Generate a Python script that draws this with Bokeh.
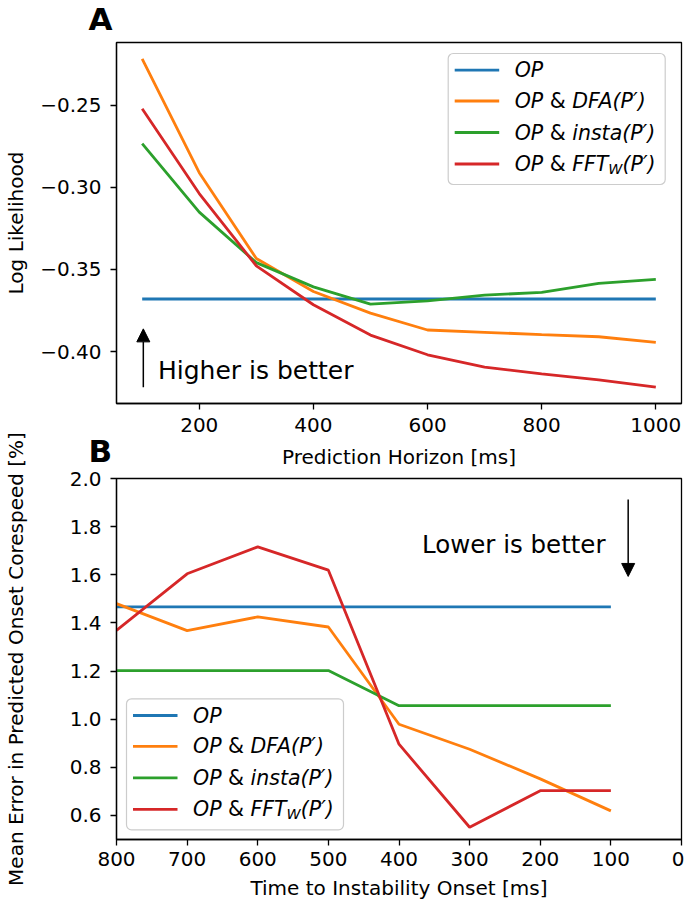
from bokeh.plotting import figure
from bokeh.models import Range1d, FixedTicker, CustomJSTickFormatter, Arrow, NormalHead
from bokeh.layouts import column
from bokeh.core.properties import value
from bokeh.embed import file_html
from bokeh.resources import INLINE

FONT = "DejaVu Sans"
COLORS = ["#1f77b4", "#ff7f0e", "#2ca02c", "#d62728"]

# ---------------- Panel A data ----------------
horizon_ms = [100, 200, 300, 400, 500, 600, 700, 800, 900, 1000]
ll_op = [-0.368, -0.368, -0.368, -0.368, -0.368, -0.368, -0.368, -0.368, -0.368, -0.368]
ll_dfa = [-0.2216, -0.291, -0.3433, -0.3634, -0.3766, -0.3869, -0.3883, -0.3897, -0.391, -0.3944]
ll_insta = [-0.2733, -0.315, -0.3458, -0.3606, -0.3711, -0.3691, -0.3656, -0.364, -0.3585, -0.356]
ll_fft = [-0.252, -0.3037, -0.3478, -0.3715, -0.390, -0.402, -0.4095, -0.4136, -0.4173, -0.4217]
a_xticks = [200, 400, 600, 800, 1000]
a_yticks = [-0.40, -0.35, -0.30, -0.25]

# ---------------- Panel B data ----------------
onset_ms = [800, 700, 600, 500, 400, 300, 200, 100]
err_op = [1.467, 1.467, 1.467, 1.467, 1.467, 1.467, 1.467, 1.467]
err_dfa = [1.48, 1.368, 1.425, 1.383, 0.979, 0.875, 0.752, 0.619]
err_insta = [1.202, 1.202, 1.202, 1.202, 1.056, 1.056, 1.056, 1.056]
err_fft = [1.369, 1.604, 1.716, 1.619, 0.896, 0.551, 0.703, 0.703]
b_xticks = [800, 700, 600, 500, 400, 300, 200, 100, 0]
b_yticks = [0.6, 0.8, 1.0, 1.2, 1.4, 1.6, 1.8, 2.0]
b_xlim = [800, 0]
b_ylim = [0.5, 2.0]

# annotation anchors (data units)
a_arrow_x = [102, 102]
a_arrow_y = [-0.4218, -0.3862]
a_note = (127.7, -0.4114, "Higher is better")
b_arrow_x = [75.5, 75.5]
b_arrow_y = [1.913, 1.593]
b_note = (107.6, 1.726, "Lower is better")

FRAME_W, FRAME_H = 565, 361
LEG_FS = 20.5
TOP_BORDER = 62

# legend label pieces: (text, style, scale, shift_down_px, gap_before_em, width_em)
LEGEND_PIECES = [
    [("OP", "italic", 1.0, 0, 0.0, 1.390)],
    [("OP", "italic", 1.0, 0, 0.0, 1.390), ("&", "normal", 1.0, 0, 0.318, 0.780),
     ("DFA(P\u2032)", "italic", 1.0, 0, 0.318, 0)],
    [("OP", "italic", 1.0, 0, 0.0, 1.390), ("&", "normal", 1.0, 0, 0.318, 0.780),
     ("insta(P\u2032)", "italic", 1.0, 0, 0.318, 0)],
    [("OP", "italic", 1.0, 0, 0.0, 1.390), ("&", "normal", 1.0, 0, 0.318, 0.780),
     ("FFT", "italic", 1.0, 0, 0.318, 1.761), ("W", "italic", 0.7, 5, 0.0, 0.989),
     ("(P\u2032)", "italic", 1.0, 0, 0.0, 0)],
]


def padded(vals, frac=0.05):
    lo, hi = min(vals), max(vals)
    pad = (hi - lo) * frac
    return lo - pad, hi + pad


def make_fig(x_range, y_range, bottom, letter, letter_standoff):
    p = figure(frame_width=FRAME_W, frame_height=FRAME_H, x_range=x_range, y_range=y_range,
               min_border_left=107, min_border_right=3, min_border_top=TOP_BORDER,
               min_border_bottom=bottom, output_backend="svg", toolbar_location=None)
    p.title.text = letter
    p.title.align = "left"
    p.title.offset = -28
    p.title.text_font = FONT
    p.title.text_font_size = "31px"
    p.title.text_font_style = "bold"
    p.title.text_color = "black"
    p.title.vertical_align = "bottom"
    p.title.standoff = letter_standoff
    p.xgrid.visible = False
    p.ygrid.visible = False
    p.outline_line_color = "black"
    p.outline_line_width = 1.3
    p.outline_line_alpha = 1.0
    for ax in (p.xaxis[0], p.yaxis[0]):
        ax.axis_line_color = "black"
        ax.axis_line_width = 1.3
        ax.major_tick_out = 6
        ax.major_tick_in = 0
        ax.major_tick_line_width = 1.3
        ax.major_tick_line_color = "black"
        ax.minor_tick_out = 0
        ax.minor_tick_in = 0
        ax.major_label_text_font = FONT
        ax.major_label_text_font_size = "20px"
        ax.major_label_text_color = "black"
        ax.axis_label_text_font = FONT
        ax.axis_label_text_font_size = "20px"
        ax.axis_label_text_font_style = "normal"
        ax.axis_label_text_color = "black"
    p.xaxis[0].major_label_standoff = 8
    p.xaxis[0].axis_label_standoff = 10
    p.yaxis[0].major_label_standoff = 9
    return p


def draw_legend(p, xmap, ymap, box_left, box_top):
    bw, bh = 217, 131
    rows = [16.7, 47.5, 79, 110.5]
    p.quad(left=[xmap(box_left)], right=[xmap(box_left + bw)],
           top=[ymap(box_top)], bottom=[ymap(box_top + bh)],
           fill_color="white", fill_alpha=0.8, line_color="#cccccc", line_width=1.2,
           border_radius=5)
    for color, row, pieces in zip(COLORS, rows, LEGEND_PIECES):
        yy = ymap(box_top + row)
        p.line([xmap(box_left + 6.5), xmap(box_left + 51)], [yy, yy], line_color=color,
               line_width=2.8)
        cur = box_left + 66.5
        for text, style, scale, dy, gap, wem in pieces:
            cur += gap * LEG_FS
            p.text(x=[xmap(cur)], y=[ymap(box_top + row + dy)], text=[text],
                   text_font=value(FONT), text_font_size=value(f"{LEG_FS * scale:.1f}px"),
                   text_font_style=value(style), text_baseline="middle", text_align="left",
                   text_color="black")
            cur += wem * scale * LEG_FS


# ---------------- Panel A ----------------
ax_lo, ax_hi = padded(horizon_ms)
ay_lo, ay_hi = padded(ll_op + ll_dfa + ll_insta + ll_fft)
a_xmap = lambda px: ax_lo + px / FRAME_W * (ax_hi - ax_lo)
a_ymap = lambda py: ay_hi - py / FRAME_H * (ay_hi - ay_lo)

pA = make_fig(Range1d(ax_lo, ax_hi), Range1d(ay_lo, ay_hi), 66, "A", 11)
pA.xaxis[0].ticker = FixedTicker(ticks=a_xticks)
pA.yaxis[0].ticker = FixedTicker(ticks=a_yticks)
pA.yaxis[0].formatter = CustomJSTickFormatter(code="return tick.toFixed(2).replace('-', '\u2212');")
pA.xaxis[0].axis_label = "Prediction Horizon [ms]"
pA.yaxis[0].axis_label = "Log Likelihood"
pA.yaxis[0].axis_label_standoff = 9
for ys, c in zip([ll_op, ll_dfa, ll_insta, ll_fft], COLORS):
    pA.line(horizon_ms, ys, line_color=c, line_width=2.8)

pA.add_layout(Arrow(end=NormalHead(size=13, fill_color="black", line_color="black"),
                    x_start=a_arrow_x[0], y_start=a_arrow_y[0], x_end=a_arrow_x[1],
                    y_end=a_arrow_y[1], line_width=1.5, line_color="black"))
pA.text(x=[a_note[0]], y=[a_note[1]], text=[a_note[2]], text_font=value(FONT),
        text_font_size=value("25px"), text_baseline="alphabetic", text_align="left",
        text_color="black")
draw_legend(pA, a_xmap, a_ymap, 331.7, 11)

# ---------------- Panel B ----------------
b_xmap = lambda px: b_xlim[0] + px / FRAME_W * (b_xlim[1] - b_xlim[0])
b_ymap = lambda py: b_ylim[1] - py / FRAME_H * (b_ylim[1] - b_ylim[0])

pB = make_fig(Range1d(b_xlim[0], b_xlim[1]), Range1d(b_ylim[0], b_ylim[1]), 62, "B", 19)
pB.xaxis[0].ticker = FixedTicker(ticks=b_xticks)
pB.yaxis[0].ticker = FixedTicker(ticks=b_yticks)
pB.xaxis[0].formatter = CustomJSTickFormatter(code="return tick.toFixed(0);")
pB.yaxis[0].formatter = CustomJSTickFormatter(code="return tick.toFixed(1);")
pB.xaxis[0].axis_label = "Time to Instability Onset [ms]"
pB.yaxis[0].axis_label = "Mean Error in Predicted Onset Corespeed [%]"
pB.yaxis[0].axis_label_standoff = 39
pB.xaxis[0].major_label_standoff = 6
pB.xaxis[0].axis_label_standoff = 7
pB.border_fill_color = None
for ys, c in zip([err_op, err_dfa, err_insta, err_fft], COLORS):
    pB.line(onset_ms, ys, line_color=c, line_width=2.8)

pB.add_layout(Arrow(end=NormalHead(size=13, fill_color="black", line_color="black"),
                    x_start=b_arrow_x[0], y_start=b_arrow_y[0], x_end=b_arrow_x[1],
                    y_end=b_arrow_y[1], line_width=1.5, line_color="black"))
pB.text(x=[b_note[0]], y=[b_note[1]], text=[b_note[2]], text_font=value(FONT),
        text_font_size=value("24.5px"), text_baseline="alphabetic", text_align="right",
        text_color="black")
draw_legend(pB, b_xmap, b_ymap, 10, 220.3)

pA.margin = (-20, 0, 0, 0)
pB.margin = (-55, 0, 0, 0)
layout = column(pA, pB)

open("out.html", "w").write(file_html(layout, INLINE))
